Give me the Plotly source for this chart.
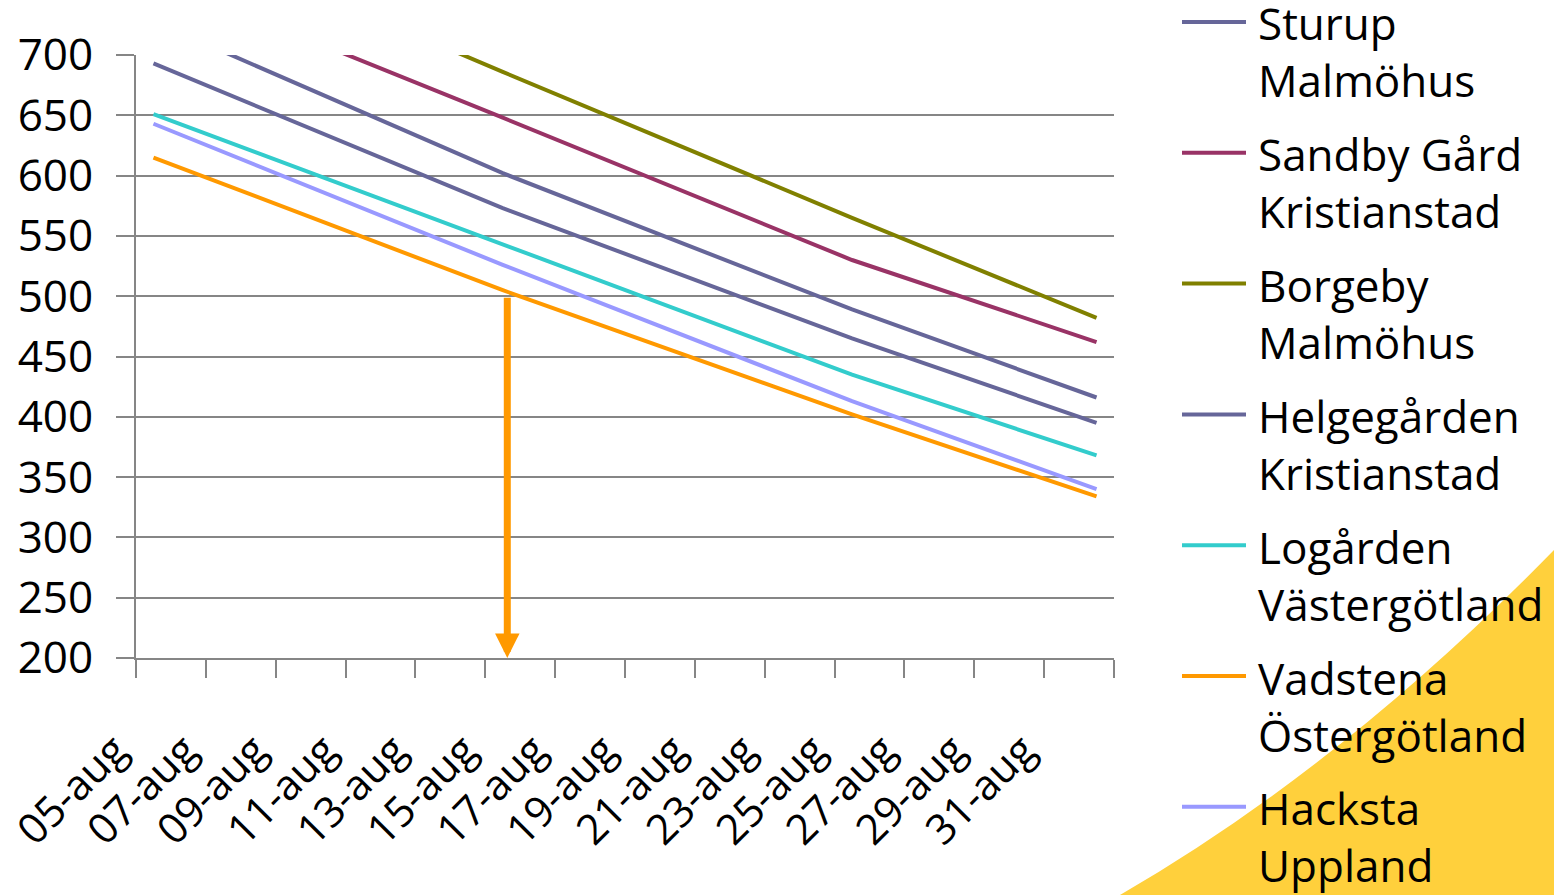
import plotly.graph_objects as go

# ---- data -------------------------------------------------------------
DATES = ["05-aug", "06-aug", "07-aug", "08-aug", "09-aug", "10-aug", "11-aug",
         "12-aug", "13-aug", "14-aug", "15-aug", "16-aug", "17-aug", "18-aug",
         "19-aug", "20-aug", "21-aug", "22-aug", "23-aug", "24-aug", "25-aug",
         "26-aug", "27-aug", "28-aug", "29-aug", "30-aug", "31-aug", "01-sep"]
TICK_LABELS = DATES[0::2]

# dates with observed / forecast values
POINT_DATES = ["05-aug", "15-aug", "25-aug", "01-sep"]

SERIES_NAMES = ["Sturup<br>Malmöhus", "Sandby Gård<br>Kristianstad",
                "Borgeby<br>Malmöhus", "Helgegården<br>Kristianstad",
                "Logården<br>Västergötland", "Vadstena<br>Östergötland",
                "Hacksta<br>Uppland"]
sturup = [728, 602, 489, 416]
sandby = [765, 648, 530, 462]
borgeby = [809, 686, 565, 482]
helgegarden = [693, 573, 465, 395]
logarden = [651, 543, 435, 368]
vadstena = [615, 505, 402, 334]
hacksta = [643, 526, 413, 340]
SERIES_VALUES = [sturup, sandby, borgeby, helgegarden, logarden, vadstena, hacksta]
COLORS = ["#666699", "#993366", "#808000", "#666699", "#33CCCC", "#FF9900", "#9999FF"]

THRESHOLD = 500          # level marked with the arrow
ARROW_X = 10.13          # category position of the arrow

# ---- layout geometry (pixels) ------------------------------------------
W, H = 1554, 895
L, R, T, B = 136, 1114, 55, 658
FONT = "Open Sans"
GRID = "#868686"
LABEL_PAD = "\u00a0" * 5  # pushes the rotated date labels down-left


def px_x(px):
    return (px - L) / (R - L)


def px_y(py):
    return (B - py) / (B - T)


fig = go.Figure()

x_idx = [DATES.index(d) for d in POINT_DATES]
for name, vals, col in zip(SERIES_NAMES, SERIES_VALUES, COLORS):
    fig.add_trace(go.Scatter(x=x_idx, y=vals, mode="lines", name=name,
                             line=dict(color=col, width=4),
                             showlegend=False))

# decorative yellow corner
p0 = (px_x(1120), px_y(895))
c0 = (px_x(1343), px_y(766))
p2 = (px_x(1554), px_y(550))
p3 = (px_x(1560), px_y(550))
p4 = (px_x(1560), px_y(900))
corner = (f"M {p0[0]},{p0[1]} Q {c0[0]},{c0[1]} {p2[0]},{p2[1]} "
          f"L {p3[0]},{p3[1]} L {p4[0]},{p4[1]} Z")
shapes = [dict(type="path", xref="paper", yref="paper", path=corner,
               fillcolor="#FFD03C", line=dict(width=0), layer="below")]

annotations = []
# legend: sample line plus two-line label for each series
for k, (name, col) in enumerate(zip(SERIES_NAMES, COLORS)):
    ly = 22 + 130.8 * k
    shapes.append(dict(type="line", xref="paper", yref="paper",
                       x0=px_x(1182), x1=px_x(1246), y0=px_y(ly), y1=px_y(ly),
                       line=dict(color=col, width=4)))
    annotations.append(dict(xref="paper", yref="paper", x=px_x(1256),
                            y=px_y(ly + 30), xanchor="left", yanchor="middle",
                            text=name, showarrow=False, align="left",
                            font=dict(family=FONT, size=44, color="black")))

# arrow from the threshold down to the date axis
annotations.append(dict(x=ARROW_X, y=200, ax=ARROW_X, ay=THRESHOLD,
                        xref="x", yref="y", axref="x", ayref="y", text="",
                        showarrow=True, arrowhead=2, arrowsize=0.7,
                        arrowwidth=7, arrowcolor="#FF9900", standoff=0))

fig.update_layout(
    width=W, height=H,
    margin=dict(l=L, r=W - R, t=T, b=H - B, pad=0),
    paper_bgcolor="white", plot_bgcolor="white",
    showlegend=False,
    shapes=shapes, annotations=annotations,
    xaxis=dict(range=[-0.5, len(DATES) - 0.5], automargin=False,
               tickmode="array",
               tickvals=[DATES.index(t) for t in TICK_LABELS],
               ticktext=[t + LABEL_PAD for t in TICK_LABELS],
               ticks="", tickangle=-45,
               tickfont=dict(family=FONT, size=42, color="black"),
               ticklabelstandoff=10,
               showgrid=False, zeroline=False,
               showline=True, linecolor=GRID, linewidth=2,
               minor=dict(tickmode="array",
                          tickvals=[i - 0.5 for i in range(0, len(DATES) + 1, 2)],
                          ticks="outside", ticklen=18, tickwidth=2,
                          tickcolor=GRID, showgrid=False)),
    yaxis=dict(range=[200, 700], automargin=False,
               tickmode="linear", tick0=200, dtick=50,
               ticks="outside", ticklen=18, tickwidth=2, tickcolor=GRID,
               tickfont=dict(family=FONT, size=44, color="black"),
               ticklabelstandoff=14,
               showgrid=True, gridcolor=GRID, gridwidth=2, zeroline=False,
               showline=True, linecolor=GRID, linewidth=2),
)

fig.write_html("out.html")
